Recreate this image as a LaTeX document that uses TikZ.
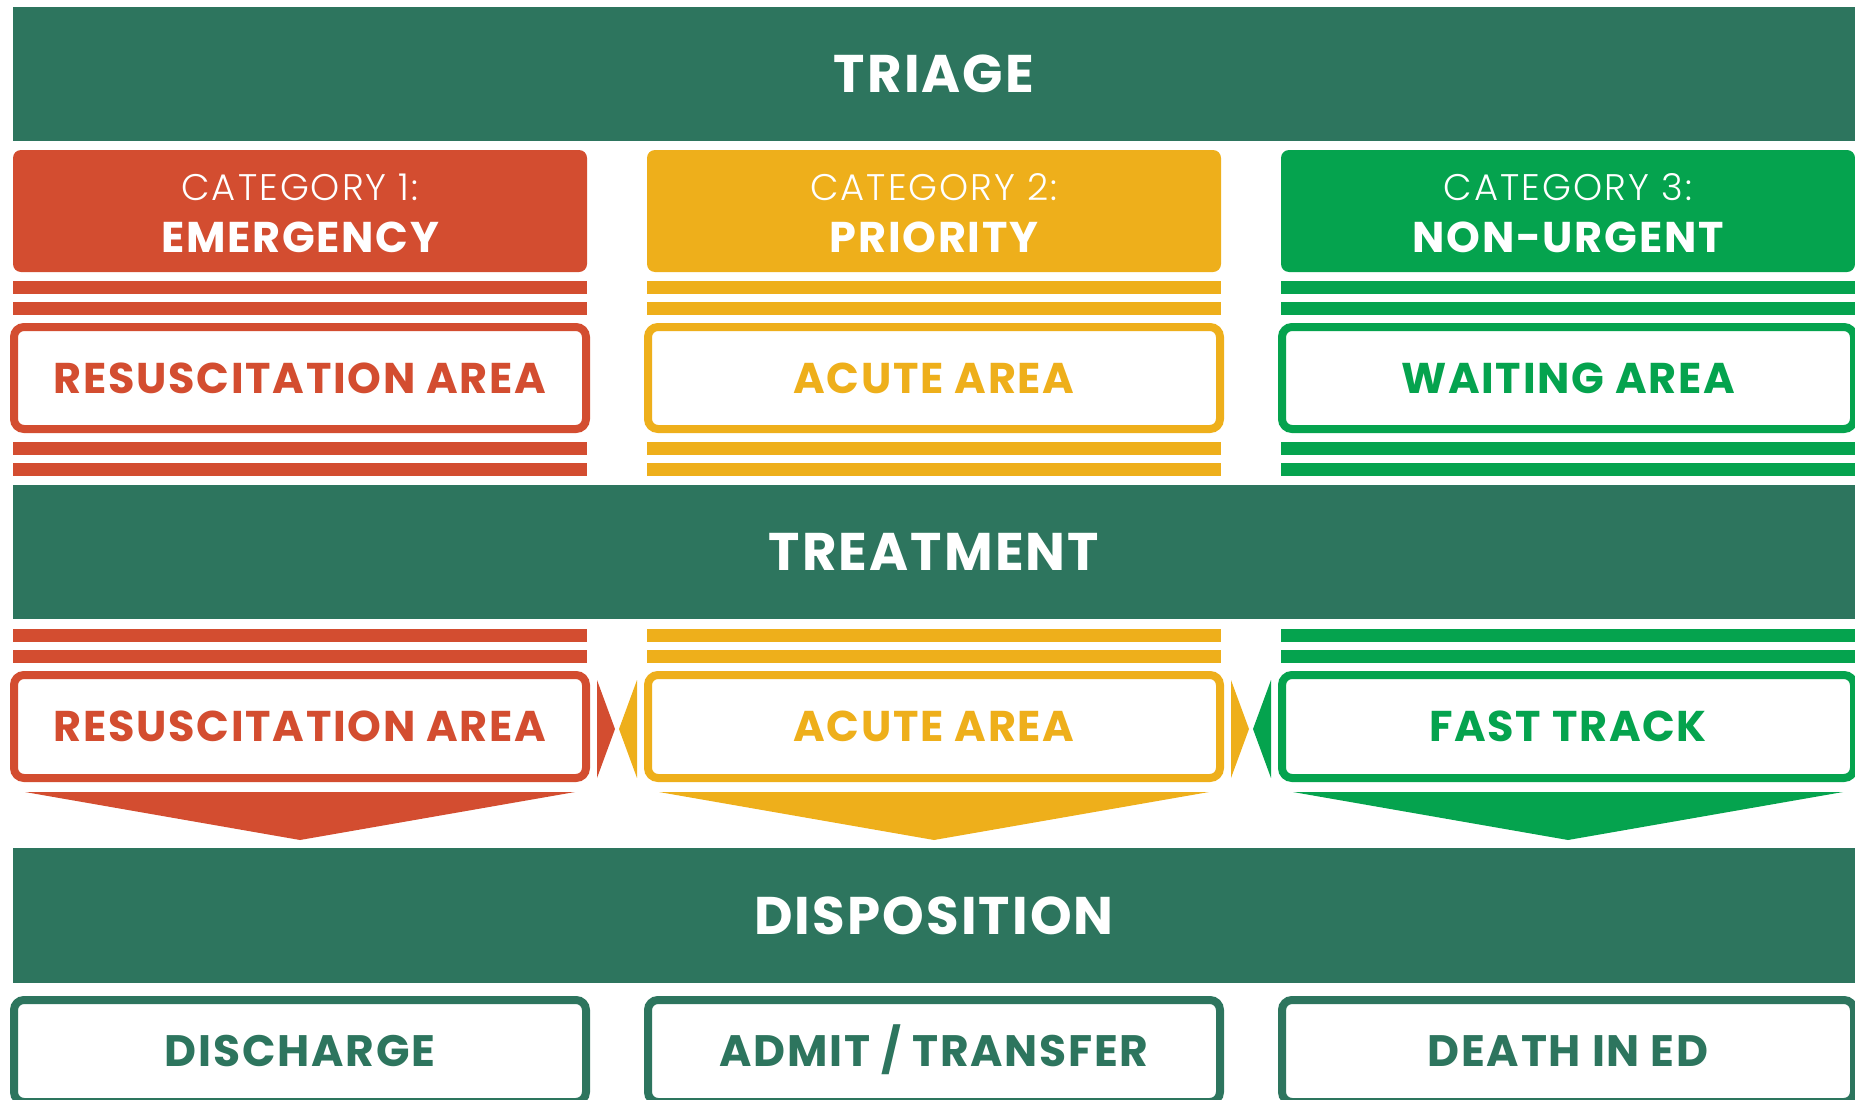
\documentclass[tikz,border=0pt]{standalone}
\usepackage{fontspec}
\setmainfont{Poppins}[LetterSpace=4]
\newfontfamily\lightfont{Poppins Light}[LetterSpace=5.5]
\definecolor{dkgreen}{RGB}{45,117,94}
\definecolor{cred}{RGB}{211,77,48}
\definecolor{cyel}{RGB}{238,175,27}
\definecolor{cgrn}{RGB}{5,163,78}
\tikzset{
  band/.style={fill=dkgreen, minimum width=1842pt, minimum height=134pt, inner sep=0pt,
    text=white, font=\fontsize{53}{60}\selectfont\bfseries, text height=37pt, text depth=0pt},
  catbox/.style={fill=#1, rounded corners=8pt, minimum width=574pt, minimum height=122pt, inner sep=0pt},
  catlight/.style={anchor=base, text=white, inner sep=0pt, font=\fontsize{37}{40}\lightfont},
  catbold/.style={anchor=base, text=white, inner sep=0pt, font=\fontsize{43}{48}\selectfont\bfseries},
  areabox/.style={draw=#1, line width=8pt, fill=white, rounded corners=10pt, minimum width=572pt,
    minimum height=102pt, inner sep=0pt, text=#1, font=\fontsize{43}{48}\selectfont\bfseries,
    text height=30pt, text depth=0pt},
  outbox/.style={areabox=dkgreen, font=\fontsize{44}{48}\selectfont\bfseries, text height=31pt},
}
\begin{document}
\begin{tikzpicture}[x=1pt,y=-1pt]
\useasboundingbox (0,0) rectangle (1855,1100);
\clip (0,0) rectangle (1855,1100);
% bands
\node[band] (triage) at (934,74) {TRIAGE};
\node[band] (treatment) at (934,552) {TREATMENT};
\node[band, minimum height=135pt] (disposition) at (934,915.5) {DISPOSITION};
% category boxes
\node[catbox=cred] (cat1) at (300,211) {};
\node[catbox=cyel] (cat2) at (934,211) {};
\node[catbox=cgrn] (cat3) at (1568,211) {};
\node[catlight] (c1a) at (300,200) {CATEGORY 1:};
\node[catbold] (c1b) at (300,252) {EMERGENCY};
\node[catlight] (c2a) at (934,200) {CATEGORY 2:};
\node[catbold] (c2b) at (934,252) {PRIORITY};
\node[catlight] (c3a) at (1568,200) {CATEGORY 3:};
\node[catbold] (c3b) at (1568,252) {NON-URGENT};
% stripes
\foreach \cx/\col in {300/cred, 934/cyel, 1568/cgrn}{
  \foreach \ya/\yb in {281/294, 302/315, 442/455, 463/476, 629/642, 650/663}{
    \fill[\col] (\cx-287,\ya) rectangle (\cx+287,\yb);
  }
}
% triage areas
\node[areabox=cred] (ta1) at (300,378) {RESUSCITATION AREA};
\node[areabox=cyel] (ta2) at (934,378) {ACUTE AREA};
\node[areabox=cgrn] (ta3) at (1568,378) {WAITING AREA};
% treatment areas
\node[areabox=cred, minimum height=103pt] (tr1) at (300,726.5) {RESUSCITATION AREA};
\node[areabox=cyel, minimum height=103pt] (tr2) at (934,726.5) {ACUTE AREA};
\node[areabox=cgrn, minimum height=103pt] (tr3) at (1568,726.5) {FAST TRACK};
% side arrows
\fill[cred] (597,680) -- (615,729) -- (597,778) -- cycle;
\fill[cyel] (637,680) -- (619,729) -- (637,778) -- cycle;
\fill[cyel] (1231,680) -- (1249,729) -- (1231,778) -- cycle;
\fill[cgrn] (1271,680) -- (1253,729) -- (1271,778) -- cycle;
% down arrows
\fill[cred] (25,792) -- (575,792) -- (300,840) -- cycle;
\fill[cyel] (659,792) -- (1209,792) -- (934,840) -- cycle;
\fill[cgrn] (1293,792) -- (1843,792) -- (1568,840) -- cycle;
% disposition outcomes
\node[outbox] (d1) at (300,1051) {DISCHARGE};
\node[outbox] (d2) at (934,1051) {ADMIT / TRANSFER};
\node[outbox] (d3) at (1568,1051) {DEATH IN ED};
\end{tikzpicture}
\end{document}
